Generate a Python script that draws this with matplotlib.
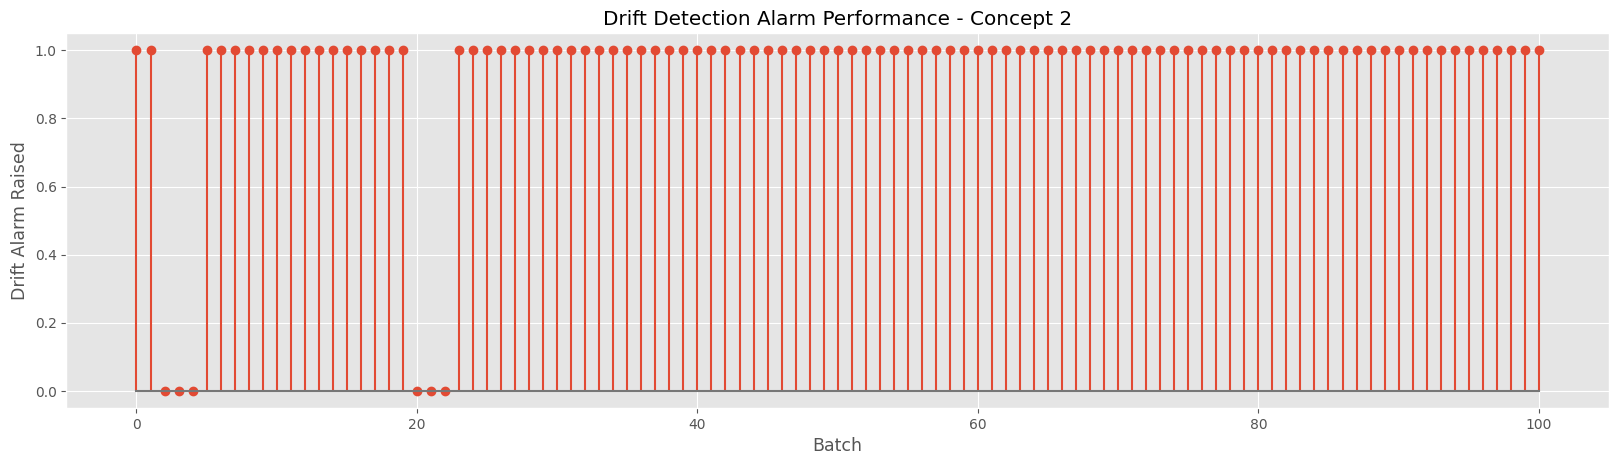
import matplotlib
matplotlib.use("Agg")
import matplotlib.pyplot as plt
import numpy as np

plt.style.use("ggplot")

batches = list(range(0, 101))
no_alarm = [2, 3, 4, 20, 21, 22]
alarms = [0 if b in no_alarm else 1 for b in batches]

fig = plt.figure(figsize=(16.19, 4.67), dpi=100)
ax = fig.add_axes([0.041, 0.126, 0.9528, 0.803])
ax.stem(batches, alarms)
ax.set_title("Drift Detection Alarm Performance - Concept 2", fontsize=14.4)
ax.set_xlabel("Batch", fontsize=12.5)
ax.set_ylabel("Drift Alarm Raised", fontsize=12.5)
fig.savefig("out.png", dpi=100)
